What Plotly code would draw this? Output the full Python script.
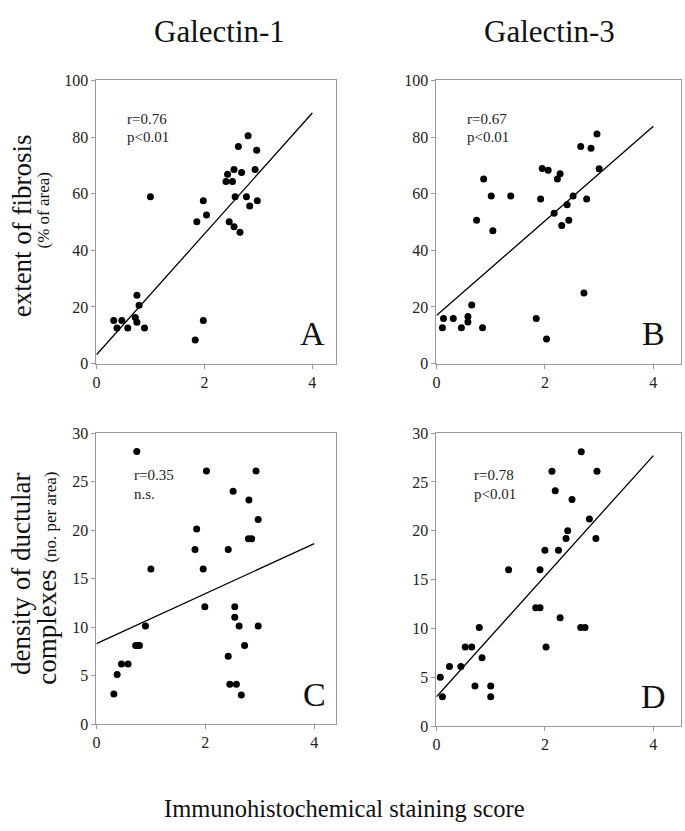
import plotly.graph_objects as go

W, H = 685, 831

# ---------------- data ----------------
# Panel A: Galectin-1 vs extent of fibrosis
a_x = [0.32, 0.38, 0.47, 0.58, 0.72, 0.75, 0.75, 0.79, 0.89, 1.0, 1.83, 1.86, 1.98, 1.98,
       2.04, 2.40, 2.43, 2.46, 2.52, 2.55, 2.55, 2.57, 2.63, 2.66, 2.69, 2.78, 2.81, 2.84,
       2.94, 2.97, 2.98]
a_y = [15.2, 12.6, 15.2, 12.6, 16.3, 14.6, 24.1, 20.6, 12.6, 58.9, 8.3, 50.1, 57.5, 15.2,
       52.5, 64.3, 66.9, 50.1, 64.3, 68.6, 48.3, 58.9, 76.7, 46.4, 67.5, 58.9, 80.5, 55.7,
       68.6, 75.4, 57.5]
# Panel B: Galectin-3 vs extent of fibrosis
b_x = [0.11, 0.13, 0.31, 0.46, 0.58, 0.58, 0.65, 0.74, 0.85, 0.87, 1.01, 1.04, 1.37, 1.84,
       1.92, 1.95, 2.03, 2.06, 2.17, 2.23, 2.28, 2.31, 2.41, 2.44, 2.52, 2.66, 2.72, 2.77,
       2.85, 2.96, 3.0]
b_y = [12.7, 15.9, 15.9, 12.7, 16.6, 14.7, 20.7, 50.6, 12.7, 65.2, 59.2, 46.9, 59.2, 15.9,
       58.1, 68.9, 8.7, 68.3, 53.1, 65.2, 67.1, 48.8, 56.1, 50.6, 59.2, 76.7, 24.9, 58.1,
       76.1, 81.1, 68.8]
# Panel C: Galectin-1 vs density of ductular complexes
c_x = [0.32, 0.38, 0.46, 0.58, 0.72, 0.75, 0.79, 0.74, 0.90, 1.0, 1.81, 1.84, 1.96, 1.99,
       2.02, 2.42, 2.42, 2.45, 2.51, 2.54, 2.54, 2.57, 2.62, 2.66, 2.72, 2.80, 2.79, 2.85,
       2.93, 2.97, 2.97]
c_y = [3.1, 5.1, 6.2, 6.2, 8.1, 8.1, 8.1, 28.1, 10.1, 16.0, 18.0, 20.1, 16.0, 12.1,
       26.1, 18.0, 7.0, 4.1, 24.0, 12.1, 11.0, 4.1, 10.1, 3.0, 8.1, 23.1, 19.1, 19.1,
       26.1, 21.1, 10.1]
# Panel D: Galectin-3 vs density of ductular complexes
d_x = [0.07, 0.11, 0.24, 0.45, 0.53, 0.65, 0.71, 0.79, 0.84, 1.0, 1.0, 1.33, 1.83, 1.91,
       1.91, 2.0, 2.02, 2.13, 2.19, 2.25, 2.28, 2.39, 2.42, 2.50, 2.66, 2.74, 2.67, 2.82,
       2.94, 2.96]
d_y = [5.0, 3.0, 6.1, 6.1, 8.1, 8.1, 4.1, 10.1, 7.0, 4.1, 3.0, 16.0, 12.1, 12.1,
       16.0, 18.0, 8.1, 26.1, 24.1, 18.0, 11.1, 19.2, 20.0, 23.2, 10.1, 10.1, 28.1, 21.2,
       19.2, 26.1]

# regression line end points (x = 0 and x = 4)
fit_x = [0, 4]
a_fit = [3.1, 88.5]
b_fit = [17.0, 83.8]
c_fit = [8.3, 18.6]
d_fit = [3.0, 27.7]

stats = {"A": ["r=0.76", "p<0.01"], "B": ["r=0.67", "p<0.01"],
         "C": ["r=0.35", "n.s."], "D": ["r=0.78", "p<0.01"]}

col_titles = ["Galectin-1", "Galectin-3"]
x_title = "Immunohistochemical staining score"

# ---------------- layout helpers ----------------
def px_x(p):
    return p / W

def px_y(p):
    return 1 - p / H

panels = {
    # name: (left, right, top, bottom) in pixels, x max, y max
    "A": (93, 334, 74, 363, 4.44, 100),
    "B": (435, 681, 74, 363, 4.51, 100),
    "C": (93, 334, 434, 731, 4.40, 30),
    "D": (435, 681, 434, 733, 4.51, 30),
}
data = {"A": (a_x, a_y, a_fit), "B": (b_x, b_y, b_fit),
        "C": (c_x, c_y, c_fit), "D": (d_x, d_y, d_fit)}

FONT = "Liberation Serif, Times New Roman, serif"
fig = go.Figure()
layout = dict(width=W, height=H, margin=dict(l=0, r=0, t=0, b=0),
              paper_bgcolor="white", plot_bgcolor="white", showlegend=False,
              font=dict(family=FONT, color="#222"))
annotations = []

for i, (name, (l, r, t, b, xmax, ymax)) in enumerate(panels.items()):
    n = "" if i == 0 else str(i + 1)
    xa, ya = "x" + n, "y" + n
    xs, ys, fit = data[name]
    fig.add_trace(go.Scatter(x=fit_x, y=fit, mode="lines", xaxis=xa, yaxis=ya,
                             line=dict(color="black", width=1.3), hoverinfo="skip"))
    fig.add_trace(go.Scatter(x=xs, y=ys, mode="markers", xaxis=xa, yaxis=ya,
                             marker=dict(color="black", size=7)))
    common = dict(showgrid=False, zeroline=False, showline=True, linecolor="#9a9a9a",
                  linewidth=1, mirror=True, ticks="outside", ticklen=4, tickwidth=1,
                  tickcolor="#9a9a9a", tickfont=dict(family=FONT, size=16, color="#222"))
    layout["xaxis" + n] = dict(domain=[px_x(l), px_x(r)], range=[0, xmax],
                               tickvals=[0, 2, 4], anchor=ya, **common)
    dtick = 20 if ymax == 100 else 5
    layout["yaxis" + n] = dict(domain=[px_y(b), px_y(t)], range=[0, ymax],
                               dtick=dtick, anchor=xa, **common)
    ytop = 86.5 if ymax == 100 else 25.7
    ystep = 6.5 if ymax == 100 else 1.95
    xpos = 0.52 if name in "AB" else 0.66
    for k, s in enumerate(stats[name]):
        annotations.append(dict(x=xpos, y=ytop - k * ystep, xref=xa, yref=ya, text=s,
                                showarrow=False, xanchor="left", yanchor="middle",
                                font=dict(family=FONT, size=15, color="#222")))
    annotations.append(dict(x=4.0, y=10.5 if ymax == 100 else 3.0,
                            xref=xa, yref=ya, text=name, showarrow=False,
                            xanchor="center", yanchor="middle",
                            font=dict(family=FONT, size=34, color="#111")))

# column titles
for txt, cx in zip(col_titles, [217, 549]):
    annotations.append(dict(x=px_x(cx), y=px_y(24), xref="paper", yref="paper", text=txt,
                            showarrow=False, xanchor="center", yanchor="middle",
                            font=dict(family=FONT, size=31, color="#111")))
# x axis title
annotations.append(dict(x=px_x(343), y=px_y(817), xref="paper", yref="paper", text=x_title,
                        showarrow=False, xanchor="center", yanchor="middle",
                        font=dict(family=FONT, size=24.5, color="#111")))
# y axis titles
annotations.append(dict(x=px_x(19), y=px_y(222), xref="paper", yref="paper",
                        text="extent of fibrosis", textangle=-90, showarrow=False,
                        xanchor="center", yanchor="middle",
                        font=dict(family=FONT, size=27, color="#111")))
annotations.append(dict(x=px_x(40), y=px_y(207), xref="paper", yref="paper",
                        text="(% of area)", textangle=-90, showarrow=False,
                        xanchor="center", yanchor="middle",
                        font=dict(family=FONT, size=17, color="#111")))
annotations.append(dict(x=px_x(17), y=px_y(578), xref="paper", yref="paper",
                        text="density of ductular", textangle=-90, showarrow=False,
                        xanchor="center", yanchor="middle",
                        font=dict(family=FONT, size=27, color="#111")))
annotations.append(dict(x=px_x(43), y=px_y(582), xref="paper", yref="paper",
                        text='complexes <span style="font-size:17px">(no. per area)</span>',
                        textangle=-90, showarrow=False,
                        xanchor="center", yanchor="middle",
                        font=dict(family=FONT, size=27, color="#111")))

layout["annotations"] = annotations
fig.update_layout(**layout)
fig.write_html("out.html", config={"displayModeBar": False},
               post_script="document.body.style.margin='0';document.body.style.padding='0';")
